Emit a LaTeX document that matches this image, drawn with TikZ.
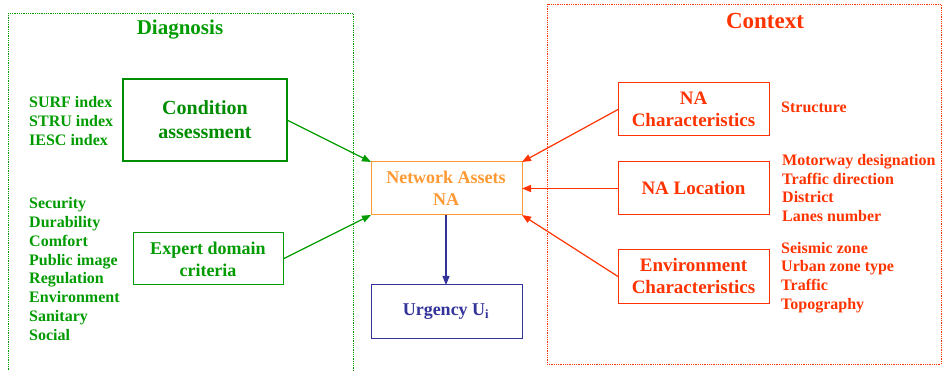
\documentclass[tikz,border=0pt]{standalone}
\usepackage{fontspec}
\newfontfamily\tmsb{Liberation Serif Bold}
\usetikzlibrary{arrows.meta}
\definecolor{dgreen}{RGB}{0,140,0}
\definecolor{lgreen}{RGB}{0,155,0}
\definecolor{ored}{RGB}{255,51,0}
\definecolor{orng}{RGB}{255,153,51}
\definecolor{nblue}{RGB}{51,51,153}
\tikzset{
  lbl/.style 2 args={font=\tmsb\fontsize{#1}{#2}\selectfont, align=center, inner sep=0pt},
  lst/.style={font=\tmsb\fontsize{16}{18.8}\selectfont, align=left, anchor=west, inner sep=0pt},
  arr/.style={-{Triangle[length=9pt,width=7pt]}, line width=1.2pt},
}
\begin{document}
\begin{tikzpicture}[x=1pt,y=-1pt]
\useasboundingbox (0,0) rectangle (942,371);
% group frames
\draw[lgreen, densely dotted, line width=0.8pt] (8,13) rectangle (353,375);
\draw[ored, densely dotted, line width=0.8pt] (547,4) rectangle (941,364);
\node[lbl={21}{25}, text=lgreen] (diag) at (180,30) {Diagnosis};
\node[lbl={23}{27}, text=ored] (ctx) at (765,21) {Context};
% boxes
\draw[dgreen, line width=2.5pt] (123,79) rectangle (287,161);
\node[lbl={20}{24}, text=dgreen] (cond) at (205,120) {Condition\\assessment};
\coordinate (condR) at (287,120);
\draw[lgreen, line width=1pt] (133,233) rectangle (283,285);
\node[lbl={18}{22}, text=lgreen] (exp) at (208,259) {Expert domain\\criteria};
\coordinate (expR) at (283,259);
\draw[orng, line width=1pt] (371,162) rectangle (522,215);
\node[lbl={18}{22}, text=orng] (na) at (446,188.5) {Network Assets\\NA};
\coordinate (naTL) at (371,162);
\coordinate (naBL) at (371,215);
\coordinate (naTR) at (522,162);
\coordinate (naR) at (522,188.5);
\coordinate (naBR) at (522,215);
\coordinate (naB) at (446,215);
\draw[nblue, line width=1pt] (371,285) rectangle (522,338);
\node[lbl={18}{22}, text=nblue] (urg) at (446,311.5) {Urgency U\textsubscript{i}};
\coordinate (urgT) at (446,285);
\draw[ored, line width=1pt] (618,83) rectangle (769,136);
\node[lbl={19}{22}, text=ored] (nac) at (693.5,109.5) {NA\\Characteristics};
\coordinate (nacL) at (618,109.5);
\draw[ored, line width=1pt] (618,162) rectangle (769,215);
\node[lbl={19}{22}, text=ored] (nal) at (693.5,188.5) {NA Location};
\coordinate (nalL) at (618,188.5);
\draw[ored, line width=1pt] (618,250) rectangle (769,303);
\node[lbl={19}{22}, text=ored] (env) at (693.5,276.5) {Environment\\Characteristics};
\coordinate (envL) at (618,276.5);
% lists
\node[lst, text=lgreen] (l1) at (29,121) {SURF index\\STRU index\\IESC index};
\node[lst, text=lgreen] (l2) at (29,269) {Security\\Durability\\Comfort\\Public image\\Regulation\\Environment\\Sanitary\\Social};
\node[lst, text=ored] (r1) at (781,107) {Structure};
\node[lst, text=ored] (r2) at (782,188) {Motorway designation\\Traffic direction\\District\\Lanes number};
\node[lst, text=ored] (r3) at (781,277.5) {Seismic zone\\Urban zone type\\Traffic\\Topography};
% arrows
\draw[arr, lgreen] (condR) -- (naTL);
\draw[arr, lgreen] (expR) -- (naBL);
\draw[arr, ored] (nacL) -- (naTR);
\draw[arr, ored] (nalL) -- (naR);
\draw[arr, ored] (envL) -- (naBR);
\draw[arr, nblue] (naB) -- (urgT);
\end{tikzpicture}
\end{document}
